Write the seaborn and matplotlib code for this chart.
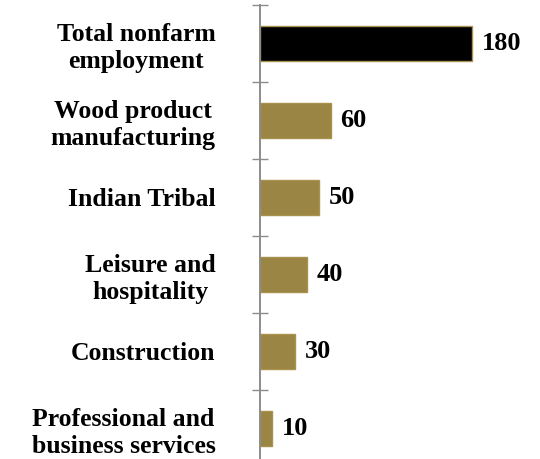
import matplotlib
matplotlib.use("Agg")
import matplotlib.pyplot as plt
import numpy as np
import pandas as pd
import seaborn as sns

# Chart data
categories = [
    "Total nonfarm\nemployment",
    "Wood product\nmanufacturing",
    "Indian Tribal",
    "Leisure and\nhospitality",
    "Construction",
    "Professional and\nbusiness services",
]
values = [180, 60, 50, 40, 30, 10]
bar_colors = ["#000000", "#9A8544", "#9A8544", "#9A8544", "#9A8544", "#9A8544"]

GOLD_EDGE = "#A8924E"
AXIS_GRAY = "#8C8C8C"


def main():
    sns.set_theme(style="white")
    plt.rcParams["font.family"] = ["Liberation Serif", "DejaVu Serif"]
    plt.rcParams["text.color"] = "black"
    plt.rcParams["ytick.color"] = "black"

    df = pd.DataFrame({"category": categories, "value": values})

    fig = plt.figure(figsize=(5.4, 4.59), dpi=100)
    # axis line at x=260 px, category boundaries every 77 px starting at y=5
    ax = fig.add_axes([260 / 540, -8 / 459, 271 / 540, 462 / 459])

    sns.barplot(
        data=df,
        x="value",
        y="category",
        hue="category",
        palette=bar_colors,
        saturation=1,
        legend=False,
        width=0.455,
        orient="h",
        ax=ax,
    )

    for patch in ax.patches:
        patch.set_edgecolor(GOLD_EDGE)
        patch.set_linewidth(1.0)

    for container in ax.containers:
        ax.bar_label(container, padding=7, fontsize=19, fontweight="bold",
                     color="black")

    ax.set_xlim(0, 230)
    ax.set_ylim(len(categories) - 0.5, -0.5)
    ax.set_xlabel("")
    ax.set_ylabel("")
    ax.set_xticks([])

    # tick marks sit on the category boundaries
    ax.set_yticks(np.arange(-0.5, len(categories), 1.0), minor=True)
    ax.tick_params(axis="y", which="minor", direction="inout", length=11.5,
                   width=1, color=AXIS_GRAY, left=True)
    ax.tick_params(axis="y", which="major", length=0, pad=32)
    for lbl in ax.get_yticklabels():
        lbl.set_fontsize(18.5)
        lbl.set_fontweight("bold")
        lbl.set_color("black")
        lbl.set_multialignment("center")
        lbl.set_linespacing(1.2)

    for side in ["top", "right", "bottom"]:
        ax.spines[side].set_visible(False)
    ax.spines["left"].set_color(AXIS_GRAY)
    ax.spines["left"].set_linewidth(1.4)

    fig.savefig("out.png", dpi=100, facecolor="white")
    plt.close(fig)


if __name__ == "__main__":
    main()
